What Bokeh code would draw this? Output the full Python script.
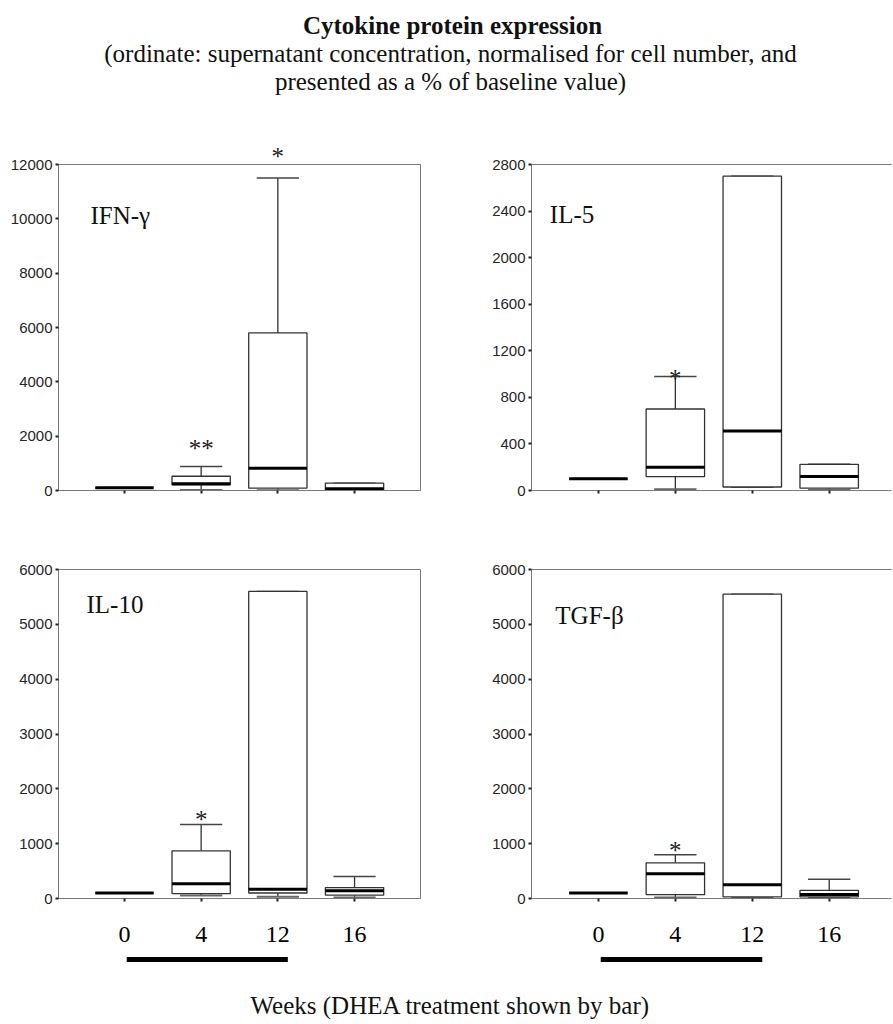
from bokeh.plotting import figure
from bokeh.layouts import column, row
from bokeh.models import Range1d, FixedTicker, LinearAxis, Label, CustomLabelingPolicy
from bokeh.embed import file_html
from bokeh.resources import INLINE

# ---------------- data ----------------
weeks = ["0", "4", "12", "16"]
treatment_weeks = ["0", "12"]

ifn_lower = [100, 20, 10, 0]
ifn_q1 = [100, 210, 85, 10]
ifn_median = [100, 245, 820, 60]
ifn_q3 = [100, 525, 5800, 270]
ifn_upper = [100, 880, 11500, 270]
ifn_stars = ["", "**", "*", ""]

il5_lower = [100, 10, 30, 5]
il5_q1 = [100, 120, 30, 20]
il5_median = [100, 200, 510, 120]
il5_q3 = [100, 700, 2700, 225]
il5_upper = [100, 980, 2700, 225]
il5_stars = ["", "*", "", ""]

il10_lower = [100, 55, 30, 20]
il10_q1 = [100, 90, 100, 60]
il10_median = [100, 270, 170, 140]
il10_q3 = [100, 870, 5600, 200]
il10_upper = [100, 1350, 5600, 400]
il10_stars = ["", "*", "", ""]

tgf_lower = [100, 20, 10, 10]
tgf_q1 = [100, 70, 30, 30]
tgf_median = [100, 450, 250, 75]
tgf_q3 = [100, 650, 5550, 150]
tgf_upper = [100, 800, 5550, 350]
tgf_stars = ["", "*", "", ""]

panel_titles = ["IFN-γ", "IL-5", "IL-10", "TGF-β"]
y_max = [12000, 2800, 6000, 6000]
y_step = [2000, 400, 1000, 1000]

title_text = "Cytokine protein expression"
subtitle_lines = ["(ordinate: supernatant concentration, normalised for cell number, and",
                  "presented as a % of baseline value)"]
xlabel_text = "Weeks (DHEA treatment shown by bar)"

# ---------------- style / layout ----------------
SERIF = "Liberation Serif"
SANS = "Liberation Sans"
GRAY = "#7a7a7a"
DARK = "#333333"
positions = list(range(1, len(weeks) + 1))
BOX_W = 0.76
CAP_W = 0.55
TOTAL_W = 892

COL = {"left": dict(width=448, mbl=58, mbr=28, xr=(0.14, 4.86)),
       "right": dict(width=444, mbl=83, mbr=1, xr=(0.13, 4.81))}
ROW = {"top": dict(height=392, mbt=26, mbb=40),
       "bottom": dict(height=424, mbt=39, mbb=56)}
LABEL_POS = [(0.557, 0.8436), (0.368, 0.848), (0.505, 0.894), (0.44, 0.861)]
STAR_OFF = [[0, 17.6, 11, 0], [0, -2.0, 0, 0], [0, 5, 0, 0], [0, 4.3, 0, 0]]


def bare(p):
    p.title.visible = False
    return p


def make_panel(idx, lower, q1, med, q3, upper, stars, colk, rowk):
    c = COL[colk]
    r = ROW[rowk]
    p = figure(width=c["width"], height=r["height"],
               x_range=Range1d(*c["xr"]), y_range=Range1d(0, y_max[idx]),
               min_border_left=c["mbl"], min_border_right=c["mbr"],
               min_border_top=r["mbt"], min_border_bottom=r["mbb"],
               toolbar_location=None, output_backend="svg",
               background_fill_color="white", border_fill_color="white")
    bare(p)
    p.grid.visible = False

    # stars sitting above the top of the frame are drawn as labels of a top axis
    high = [i for i, s in enumerate(stars) if s and upper[i] > 0.9 * y_max[idx]]
    top = LinearAxis(ticker=FixedTicker(ticks=[positions[i] for i in high]),
                     major_label_overrides={positions[i]: stars[i] for i in high},
                     axis_line_color=GRAY, axis_line_width=1,
                     major_tick_line_color=None, minor_tick_line_color=None,
                     major_label_text_font=SERIF, major_label_text_font_size="25px",
                     major_label_text_color="#222222", major_label_standoff=-11)
    if colk == "left":
        p.outline_line_color = GRAY
        p.outline_line_width = 1
        if high:
            p.add_layout(top, "above")
    else:
        p.outline_line_color = None
        p.add_layout(top, "above")

    xa = p.below[0]
    xa.ticker = FixedTicker(ticks=positions)
    xa.axis_line_color = GRAY
    xa.major_tick_line_color = "#222222"
    xa.major_tick_line_width = 2
    xa.major_tick_out = 3
    xa.major_tick_in = 0
    xa.minor_tick_line_color = None
    if rowk == "bottom":
        xa.major_label_overrides = {pos: w for pos, w in zip(positions, weeks)}
        xa.major_label_text_font = SERIF
        xa.major_label_text_font_size = "24px"
        xa.major_label_text_color = "black"
        xa.major_label_standoff = 25
    else:
        xa.major_label_policy = CustomLabelingPolicy(code="return []")

    ya = p.left[0]
    ya.ticker = FixedTicker(ticks=list(range(0, y_max[idx] + 1, y_step[idx])))
    ya.axis_line_color = GRAY
    ya.major_tick_line_color = "#222222"
    ya.major_tick_line_width = 2
    ya.major_tick_out = 3
    ya.major_tick_in = 0
    ya.minor_tick_line_color = None
    ya.major_label_text_font = SANS
    ya.major_label_text_font_size = "15px"
    ya.major_label_text_color = "#262626"
    ya.major_label_standoff = 3

    xs_l = [x - BOX_W / 2 for x in positions]
    xs_r = [x + BOX_W / 2 for x in positions]
    cap_l = [x - CAP_W / 2 for x in positions]
    cap_r = [x + CAP_W / 2 for x in positions]

    # whiskers
    p.segment(x0=positions, y0=q3, x1=positions, y1=upper, line_color=DARK, line_width=1.3)
    p.segment(x0=positions, y0=q1, x1=positions, y1=lower, line_color=DARK, line_width=1.3)
    # caps
    p.segment(x0=cap_l, y0=upper, x1=cap_r, y1=upper, line_color="#444444", line_width=1.5)
    p.segment(x0=cap_l, y0=lower, x1=cap_r, y1=lower, line_color="#666666", line_width=2)
    # boxes
    p.vbar(x=positions, width=BOX_W, top=q3, bottom=q1, fill_color="white",
           line_color=DARK, line_width=1.3)
    # medians
    p.segment(x0=xs_l, y0=med, x1=xs_r, y1=med, line_color="black", line_width=3)

    # significance stars inside the frame
    for i, s in enumerate(stars):
        if s and i not in high:
            p.add_layout(Label(x=positions[i], y=upper[i], y_offset=STAR_OFF[idx][i], text=s,
                               text_font=SERIF, text_font_size="25px", text_align="center",
                               text_baseline="alphabetic", text_color="#222222"))
    lx, ly = LABEL_POS[idx]
    p.add_layout(Label(x=lx, y=ly * y_max[idx], text=panel_titles[idx], text_font=SERIF,
                       text_font_size="25px", text_align="left", text_baseline="alphabetic",
                       text_color="#111111"))
    return p


p1 = make_panel(0, ifn_lower, ifn_q1, ifn_median, ifn_q3, ifn_upper, ifn_stars, "left", "top")
p2 = make_panel(1, il5_lower, il5_q1, il5_median, il5_q3, il5_upper, il5_stars, "right", "top")
p3 = make_panel(2, il10_lower, il10_q1, il10_median, il10_q3, il10_upper, il10_stars, "left", "bottom")
p4 = make_panel(3, tgf_lower, tgf_q1, tgf_median, tgf_q3, tgf_upper, tgf_stars, "right", "bottom")

# title figure
TH = 138
tf = bare(figure(width=TOTAL_W, height=TH, x_range=Range1d(0, TOTAL_W), y_range=Range1d(0, TH),
                 x_axis_type=None, y_axis_type=None, min_border=0, outline_line_color=None,
                 toolbar_location=None, output_backend="svg"))
tf.add_layout(Label(x=452, y=TH - 25, text=title_text, text_font=SERIF, text_font_size="25px",
                    text_font_style="bold", text_align="center", text_baseline="middle",
                    text_color="#111111"))
for k, line in enumerate(subtitle_lines):
    tf.add_layout(Label(x=450, y=TH - 53 - 28 * k, text=line, text_font=SERIF, text_font_size="25px",
                        text_align="center", text_baseline="middle", text_color="#111111"))


def make_bar(colk, xr):
    c = COL[colk]
    f = bare(figure(width=c["width"], height=16, x_range=xr, y_range=Range1d(0, 16),
                    x_axis_type=None, y_axis_type=None, min_border_left=c["mbl"],
                    min_border_right=c["mbr"], min_border_top=0, min_border_bottom=0,
                    outline_line_color=None, toolbar_location=None, output_backend="svg"))
    s = positions[weeks.index(treatment_weeks[0])] + 0.03
    e = positions[weeks.index(treatment_weeks[1])] + 0.13
    f.segment(x0=[s], y0=[11], x1=[e], y1=[11], line_color="black", line_width=5)
    return f


b1 = make_bar("left", p3.x_range)
b2 = make_bar("right", p4.x_range)

WH = 52
wf = bare(figure(width=TOTAL_W, height=WH, x_range=Range1d(0, TOTAL_W), y_range=Range1d(0, WH),
                 x_axis_type=None, y_axis_type=None, min_border=0, outline_line_color=None,
                 toolbar_location=None, output_backend="svg"))
wf.add_layout(Label(x=450, y=WH - 35, text=xlabel_text, text_font=SERIF, text_font_size="25px",
                    text_align="center", text_baseline="middle", text_color="#111111"))

layout = column(tf, row(p1, p2), row(p3, p4), row(b1, b2), wf)

open("out.html", "w").write(file_html(layout, INLINE))
